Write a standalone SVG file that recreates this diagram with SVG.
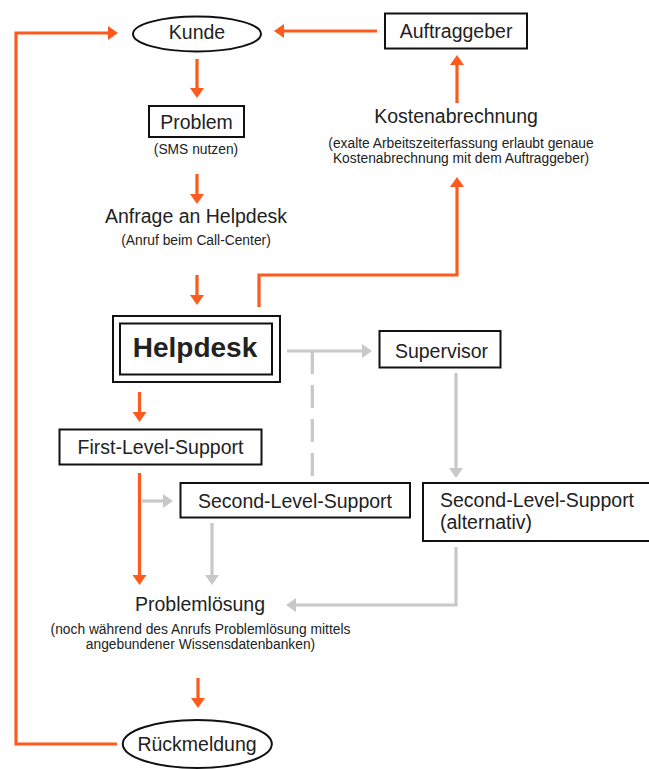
<svg xmlns="http://www.w3.org/2000/svg" width="649" height="769" viewBox="0 0 649 769">
<style>
text{font-family:"Liberation Sans",Arial,sans-serif;fill:#222}
.m{font-size:19.5px}
.s{font-size:13.8px}
.b{font-size:28px;font-weight:bold}
.c{text-anchor:middle}
.box{fill:#fff;stroke:#111;stroke-width:2}
.o{fill:none;stroke:#ff5a1e;stroke-width:3.2}
.g{fill:none;stroke:#c8c8c8;stroke-width:3.2}
</style>
<defs>
<marker id="ao" markerUnits="userSpaceOnUse" markerWidth="12" markerHeight="16" refX="2" refY="7" orient="auto"><path d="M0,0 L10,7 L0,14 z" fill="#ff5a1e"/></marker>
<marker id="ag" markerUnits="userSpaceOnUse" markerWidth="12" markerHeight="16" refX="2" refY="7" orient="auto"><path d="M0,0 L10,7 L0,14 z" fill="#c8c8c8"/></marker>
</defs>
<rect width="649" height="769" fill="#fff"/>
<g id="connectors">
<path class="o" d="M117,744 H16 V33 H110" marker-end="url(#ao)"/>
<path class="o" d="M377,31 H282" marker-end="url(#ao)"/>
<path class="o" d="M197,59 V90" marker-end="url(#ao)"/>
<path class="o" d="M197,174 V196" marker-end="url(#ao)"/>
<path class="o" d="M197,275 V297" marker-end="url(#ao)"/>
<path class="o" d="M259,307 V275 H457 V185" marker-end="url(#ao)"/>
<path class="o" d="M457,103 V63" marker-end="url(#ao)"/>
<path class="o" d="M139.5,392 V414" marker-end="url(#ao)"/>
<path class="o" d="M139.5,473 V577" marker-end="url(#ao)"/>
<path class="o" d="M198,678 V700" marker-end="url(#ao)"/>
<path class="g" d="M287,351 H364" marker-end="url(#ag)"/>
<path class="g" d="M312.3,351 V477" stroke-dasharray="23 11"/>
<path class="g" d="M456,373 V470" marker-end="url(#ag)"/>
<path class="g" d="M142,501 H165" marker-end="url(#ag)"/>
<path class="g" d="M212,523 V577" marker-end="url(#ag)"/>
<path class="g" d="M456,547 V605 H294" marker-end="url(#ag)"/>
</g>
<g id="kunde">
<ellipse cx="197" cy="34" rx="64" ry="17.5" class="box"/>
<text class="m c" x="197" y="39">Kunde</text>
</g>
<g id="auftraggeber">
<rect x="385" y="13.5" width="142" height="35" class="box"/>
<text class="m c" x="456" y="38">Auftraggeber</text>
</g>
<g id="problem">
<rect x="149" y="106" width="95" height="31" class="box"/>
<text class="m c" x="196.5" y="128.5">Problem</text>
<text class="s c" x="196" y="154">(SMS nutzen)</text>
</g>
<g id="anfrage">
<text class="m c" x="196" y="223">Anfrage an Helpdesk</text>
<text class="s c" x="196" y="245">(Anruf beim Call-Center)</text>
</g>
<g id="kostenabrechnung">
<text class="m c" x="456" y="123">Kostenabrechnung</text>
<text class="s c" x="461" y="148">(exalte Arbeitszeiterfassung erlaubt genaue</text>
<text class="s c" x="461" y="163">Kostenabrechnung mit dem Auftraggeber)</text>
</g>
<g id="helpdesk">
<rect x="113" y="316" width="167" height="66" class="box"/>
<rect x="120" y="323.5" width="152" height="51" class="box"/>
<text class="b c" x="195" y="357">Helpdesk</text>
</g>
<g id="supervisor">
<rect x="379.5" y="331" width="121" height="36.5" class="box"/>
<text class="m c" x="441.5" y="357.5">Supervisor</text>
</g>
<g id="first-level">
<rect x="59.5" y="429.5" width="202" height="35" class="box"/>
<text class="m c" x="160.5" y="453.5">First-Level-Support</text>
</g>
<g id="second-level">
<rect x="180.5" y="483" width="229.5" height="34.5" class="box"/>
<text class="m c" x="295" y="507.5">Second-Level-Support</text>
</g>
<g id="second-level-alt">
<rect x="423" y="483" width="240" height="58" class="box"/>
<text class="m" x="440" y="507">Second-Level-Support</text>
<text class="m" x="440" y="528.5">(alternativ)</text>
</g>
<g id="problemloesung">
<text class="m c" x="200" y="611">Problemlösung</text>
<text class="s c" x="200.5" y="633.5">(noch während des Anrufs Problemlösung mittels</text>
<text class="s c" x="200.5" y="648.5">angebundener Wissensdatenbanken)</text>
</g>
<g id="rueckmeldung">
<ellipse cx="197.3" cy="744" rx="74.5" ry="24" class="box"/>
<text class="m c" x="197" y="751">Rückmeldung</text>
</g>
</svg>
